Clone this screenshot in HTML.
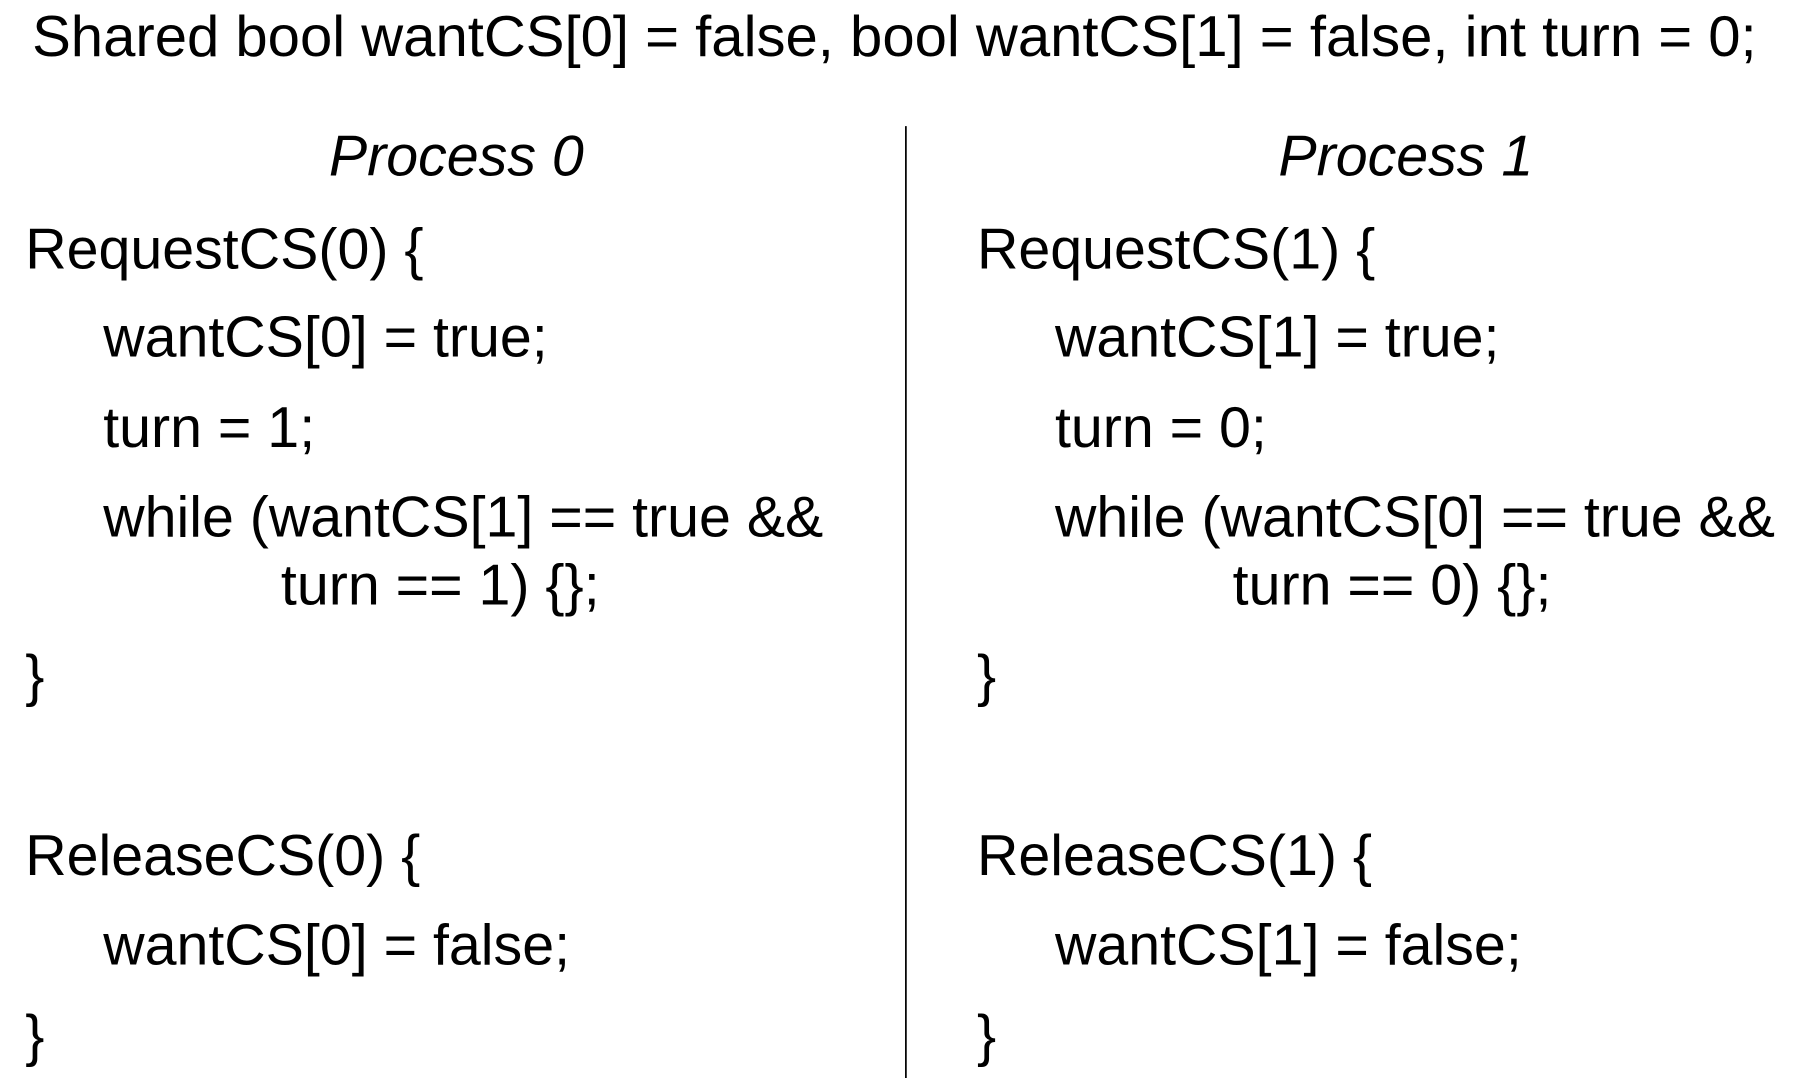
<!DOCTYPE html>
<html><head><meta charset="utf-8"><style>
html,body{margin:0;padding:0;background:#fff;}
svg{display:block;}
text{font-family:"Liberation Sans",Arial,sans-serif;font-size:50px;fill:#000;}
.i{font-style:italic;}
</style></head><body>
<svg width="1798" height="1078" viewBox="0 0 1568 940" preserveAspectRatio="none">
<text x="28" y="49" textLength="1504" lengthAdjust="spacingAndGlyphs">Shared bool wantCS[0] = false, bool wantCS[1] =  false, int turn = 0;</text>
<line x1="790" y1="110" x2="790" y2="940" stroke="#000" stroke-width="1.5"/>
<text class="i" x="398" y="153" text-anchor="middle">Process 0</text>
<text class="i" x="1226" y="153" text-anchor="middle">Process 1</text>

<text x="22" y="234">RequestCS(0) {</text>
<text x="90" y="311">wantCS[0] = true;</text>
<text x="90" y="390">turn = 1;</text>
<text x="90" y="468">while (wantCS[1] == true &amp;&amp;</text>
<text x="245" y="527">turn == 1) {};</text>
<text x="22" y="606">}</text>
<text x="22" y="763">ReleaseCS(0) {</text>
<text x="90" y="841">wantCS[0] = false;</text>
<text x="22" y="920">}</text>

<text x="852" y="234">RequestCS(1) {</text>
<text x="920" y="311">wantCS[1] = true;</text>
<text x="920" y="390">turn = 0;</text>
<text x="920" y="468">while (wantCS[0] == true &amp;&amp;</text>
<text x="1075" y="527">turn == 0) {};</text>
<text x="852" y="606">}</text>
<text x="852" y="763">ReleaseCS(1) {</text>
<text x="920" y="841">wantCS[1] = false;</text>
<text x="852" y="920">}</text>
</svg>
</body></html>
